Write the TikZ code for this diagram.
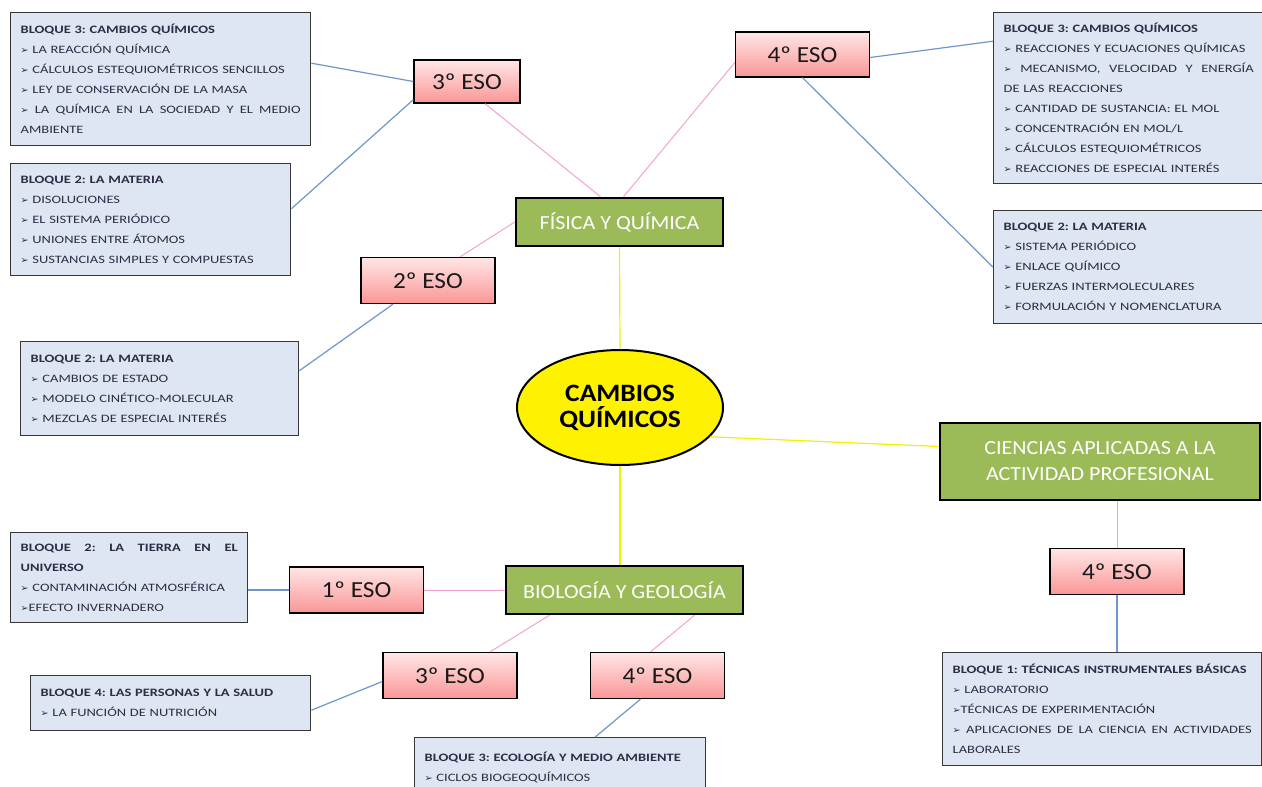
\documentclass[tikz,border=0pt]{standalone}
\usepackage{fontspec}
\setmainfont{Carlito}
\newfontfamily\boxfont[FakeStretch=1.28]{Carlito}
\newfontfamily\bigfont[FakeStretch=1.1]{Carlito}
\newfontfamily\arrowfont{DejaVu Sans}
\usepackage{tikz}
\usetikzlibrary{shapes.geometric,positioning}
\frenchspacing

\definecolor{boxfill}{RGB}{221,230,242}
\definecolor{boxline}{RGB}{55,55,55}
\definecolor{boxtext}{RGB}{45,45,70}
\definecolor{pinktop}{RGB}{255,230,230}
\definecolor{pinkbot}{RGB}{250,150,150}
\definecolor{areagreen}{RGB}{155,187,89}
\definecolor{linkblue}{RGB}{110,150,205}
\definecolor{linkpink}{RGB}{245,160,210}
\definecolor{linkyellow}{RGB}{245,240,0}

\newcommand\itm{{\arrowfont\fontsize{9.5}{9.5}\selectfont\char"27A2}\ }
\newcommand\itmx{{\arrowfont\fontsize{9.5}{9.5}\selectfont\char"27A2}}
\newcommand\jline[2]{\leavevmode\hbox to #1{\spaceskip=.25em plus 1fil\relax #2}}

\tikzset{
  content/.style={draw=boxline, line width=1.4pt, fill=boxfill, anchor=north west,
    align=left, inner xsep=10pt, inner ysep=7pt, text=boxtext,
    font=\boxfont\fontsize{11.3}{20}\selectfont},
  course/.style={draw=black, line width=1.3pt, top color=pinktop, bottom color=pinkbot,
    minimum width=134pt, minimum height=46pt, text=black!90,
    font=\bigfont\fontsize{23}{26}\selectfont},
  area/.style={draw=black, line width=2.5pt, fill=areagreen, text=white, align=center,
    font=\bigfont\fontsize{20}{26}\selectfont},
  bluelink/.style={draw=linkblue, line width=1.2pt},
  pinklink/.style={draw=linkpink, line width=1pt},
  yellowlink/.style={draw=linkyellow, line width=1.2pt}
}

\begin{document}
\begin{tikzpicture}[x=1pt,y=-1pt]
\useasboundingbox (0,0) rectangle (1262,787);

\node[ellipse, draw=black, line width=2pt, fill=yellow, minimum width=206pt, minimum height=115pt,
  align=center, font=\bigfont\bfseries\fontsize{25}{26}\selectfont] (ce) at (620,407.5) {CAMBIOS\\QUÍMICOS};

\node[area, minimum width=207pt, minimum height=48pt] (fyq) at (619.5,222) {FÍSICA Y QUÍMICA};
\node[area, minimum width=237pt, minimum height=48pt] (byg) at (624.5,590) {BIOLOGÍA Y GEOLOGÍA};
\node[area, minimum width=320pt, minimum height=77pt] (cap) at (1100,461.5) {CIENCIAS APLICADAS A LA\\ACTIVIDAD PROFESIONAL};

\node[course, minimum width=106pt, minimum height=43pt] (eso3a) at (467,81.5) {3º ESO};
\node[course, minimum height=45pt] (eso4a) at (802.5,54.5) {4º ESO};
\node[course] (eso2) at (428,280.5) {2º ESO};
\node[course] (eso4c) at (1117,571.5) {4º ESO};
\node[course] (eso1) at (356.5,590) {1º ESO};
\node[course] (eso3b) at (450,675.5) {3º ESO};
\node[course] (eso4b) at (657.5,675.5) {4º ESO};

\node[content, text width=280pt, minimum height=133pt] (tlA) at (10,12) {\textbf{BLOQUE 3: CAMBIOS QUÍMICOS}\\
  \itm LA REACCIÓN QUÍMICA\\
  \itm CÁLCULOS ESTEQUIOMÉTRICOS SENCILLOS\\
  \itm LEY DE CONSERVACIÓN DE LA MASA\\
  \jline{280pt}{\itm LA QUÍMICA EN LA SOCIEDAD Y EL MEDIO}\\
  AMBIENTE};
\node[content, text width=260pt, minimum height=112pt] (tlB) at (10,163) {\textbf{BLOQUE 2: LA MATERIA}\\
  \itm DISOLUCIONES\\
  \itm EL SISTEMA PERIÓDICO\\
  \itm UNIONES ENTRE ÁTOMOS\\
  \itm SUSTANCIAS SIMPLES Y COMPUESTAS};
\node[content, text width=250pt, minimum height=171pt] (trA) at (993,12) {\textbf{BLOQUE 3: CAMBIOS QUÍMICOS}\\
  \itm REACCIONES Y ECUACIONES QUÍMICAS\\
  \jline{250pt}{\itm MECANISMO, VELOCIDAD Y ENERGÍA}\\
  DE LAS REACCIONES\\
  \itm CANTIDAD DE SUSTANCIA: EL MOL\\
  \itm CONCENTRACIÓN EN MOL/L\\
  \itm CÁLCULOS ESTEQUIOMÉTRICOS\\
  \itm REACCIONES DE ESPECIAL INTERÉS};
\node[content, text width=250pt, minimum height=113pt] (trB) at (993,210) {\textbf{BLOQUE 2: LA MATERIA}\\
  \itm SISTEMA PERIÓDICO\\
  \itm ENLACE QUÍMICO\\
  \itm FUERZAS INTERMOLECULARES\\
  \itm FORMULACIÓN Y NOMENCLATURA};
\node[content, text width=258pt, minimum height=94pt] (lbox) at (20,341) {\textbf{BLOQUE 2: LA MATERIA}\\
  \itm CAMBIOS DE ESTADO\\
  \itm MODELO CINÉTICO-MOLECULAR\\
  \itm MEZCLAS DE ESPECIAL INTERÉS};
\node[content, text width=217pt, minimum height=90pt] (blA) at (10,532) {\jline{217pt}{\textbf{BLOQUE 2: LA TIERRA EN EL}}\\
  \textbf{UNIVERSO}\\
  \itm CONTAMINACIÓN ATMOSFÉRICA\\
  \itmx EFECTO INVERNADERO};
\node[content, text width=260pt, minimum height=55pt] (blB) at (30,675) {\textbf{BLOQUE 4: LAS PERSONAS Y LA SALUD}\\
  \itm LA FUNCIÓN DE NUTRICIÓN};
\node[content, text width=271pt, minimum height=60pt] (ecoBox) at (414,737) {\textbf{BLOQUE 3: ECOLOGÍA Y MEDIO AMBIENTE}\\
  \itm CICLOS BIOGEOQUÍMICOS};
\node[content, text width=299pt, minimum height=113pt] (brBox) at (942,652) {\textbf{BLOQUE 1: TÉCNICAS INSTRUMENTALES BÁSICAS}\\
  \itm LABORATORIO\\
  \itmx TÉCNICAS DE EXPERIMENTACIÓN\\
  \jline{299pt}{\itm APLICACIONES DE LA CIENCIA EN ACTIVIDADES}\\
  LABORALES};

\draw[bluelink] ([yshift=16pt]tlA.east) -- (eso3a.west);
\draw[bluelink] ([yshift=11pt]tlB.east) -- ([yshift=4pt]eso3a.south west);
\draw[pinklink] ([xshift=18pt]eso3a.south) -- ([xshift=-19pt]fyq.north);
\draw[pinklink] ([yshift=-8pt]eso4a.west) -- ([xshift=4pt]fyq.north);
\draw[bluelink] ([yshift=-3pt]eso4a.east) -- ([yshift=57pt]trA.west);
\draw[bluelink] (eso4a.south) -- (trB.west);
\draw[pinklink] (fyq.west) -- ([xshift=32pt]eso2.north);
\draw[bluelink] ([xshift=-35pt]eso2.south) -- ([yshift=18pt]lbox.east);
\draw[yellowlink] (fyq.south) -- (ce.north);
\draw[yellowlink] (ce.-18) -- ([yshift=15pt]cap.west);
\draw[yellowlink] (ce.south) -- (ce.south |- byg.north);
\draw[pinklink] (eso4c.north) -- (eso4c.north |- cap.south);
\draw[bluelink] (eso4c.south) -- (eso4c.south |- brBox.north);
\draw[pinklink] (byg.west) -- (eso1.east);
\draw[bluelink] (eso1.west) -- (eso1.west -| blA.east);
\draw[pinklink] ([xshift=-75pt]byg.south) -- ([xshift=40pt]eso3b.north);
\draw[pinklink] ([xshift=70pt]byg.south) -- ([xshift=-7pt]eso4b.north);
\draw[bluelink] ([yshift=-6pt]eso3b.west) -- ([yshift=-7pt]blB.east);
\draw[bluelink] ([xshift=-17pt]eso4b.south) -- ([xshift=35pt]ecoBox.north);
\end{tikzpicture}
\end{document}
